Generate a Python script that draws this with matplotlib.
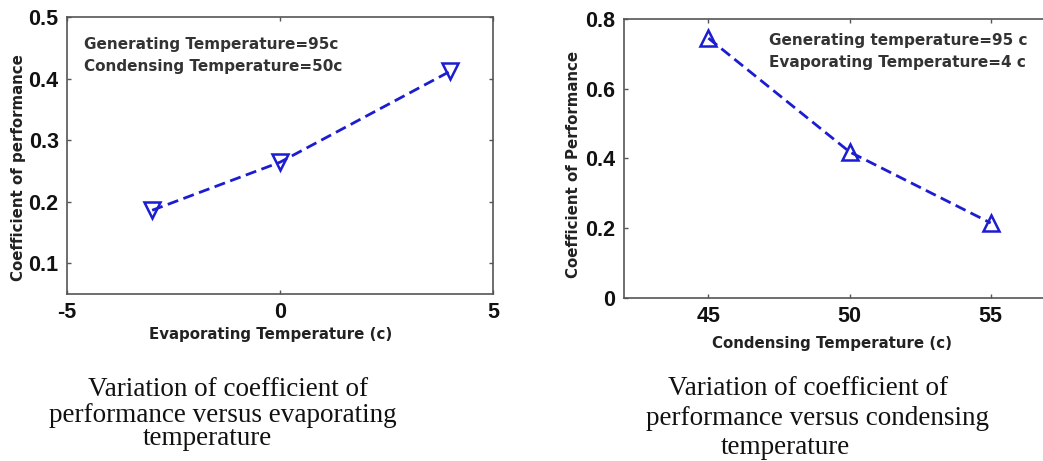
import matplotlib
matplotlib.use('Agg')
import matplotlib.pyplot as plt

# data
evap_temp = [-3, 0, 4]
cop_evap = [0.186, 0.264, 0.412]
cond_temp = [45, 50, 55]
cop_cond = [0.745, 0.419, 0.215]

W, H = 1043, 461
blue = '#1c1cd0'
grey = '#555555'
lab_font = dict(fontsize=10.8, fontweight='bold', family='DejaVu Sans', color='#222222')
note_font = dict(fontsize=11, fontweight='bold', family='DejaVu Sans', color='#333333')
cap_font = dict(fontsize=19.5, family='Liberation Serif', color='#111111')

def px(x, y):
    return x / W, 1 - y / H

def style_axes(ax):
    for s in ax.spines.values():
        s.set_color(grey)
        s.set_linewidth(1.2)
    ax.tick_params(direction='in', length=3, width=1, color=grey,
                   top=True, right=True, pad=6)
    for lab in ax.get_xticklabels() + ax.get_yticklabels():
        lab.set_fontfamily('Liberation Sans')
        lab.set_fontweight('bold')
        lab.set_fontsize(15.5)
        lab.set_color('#111111')

fig = plt.figure(figsize=(W / 100, H / 100), dpi=100)

# left panel
ax1 = fig.add_axes([0.0642, 0.3623, 0.4085, 0.6009])
ax1.plot(evap_temp, cop_evap, '--v', color=blue, lw=2, ms=12,
         mfc='none', mew=1.8, dashes=(4, 2))
ax1.set_xlim(-5, 5)
ax1.set_ylim(0.05, 0.5)
ax1.set_xticks([-5, 0, 5])
ax1.set_yticks([0.1, 0.2, 0.3, 0.4, 0.5])
ax1.set_xticklabels(['-5', '0', '5'])
ax1.set_yticklabels(['0.1', '0.2', '0.3', '0.4', '0.5'])
style_axes(ax1)
fig.text(*px(271, 335), 'Evaporating Temperature (c)', ha='center', va='center', **lab_font)
fig.text(*px(19, 168), 'Coefficient of performance', rotation=90,
         ha='center', va='center', **lab_font)
fig.text(*px(84, 44), 'Generating Temperature=95c', va='center', **note_font)
fig.text(*px(84, 67), 'Condensing Temperature=50c', va='center', **note_font)

# right panel
ax2 = fig.add_axes([0.598, 0.3536, 0.406, 0.6052])
ax2.plot(cond_temp, cop_cond, '--^', color=blue, lw=2, ms=12,
         mfc='none', mew=1.8, dashes=(4, 2))
ax2.set_xlim(42, 57)
ax2.set_ylim(0, 0.8)
ax2.set_xticks([45, 50, 55])
ax2.set_yticks([0, 0.2, 0.4, 0.6, 0.8])
ax2.set_xticklabels(['45', '50', '55'])
ax2.set_yticklabels(['0', '0.2', '0.4', '0.6', '0.8'])
style_axes(ax2)
fig.text(*px(832, 343), 'Condensing Temperature (c)', ha='center', va='center', **lab_font)
fig.text(*px(573, 164), 'Coefficient of Performance', rotation=90,
         ha='center', va='center', **lab_font)
fig.text(*px(769, 40), 'Generating temperature=95 c', va='center', **note_font)
fig.text(*px(769, 63), 'Evaporating Temperature=4 c', va='center', **note_font)

# captions, one line at a time as placed in the picture
fig.text(*px(228, 396), 'Variation of coefficient of', ha='center', va='baseline', **cap_font)
fig.text(*px(223, 422), 'performance versus evaporating', ha='center', va='baseline', **cap_font)
fig.text(*px(207, 445), 'temperature', ha='center', va='baseline', **cap_font)
fig.text(*px(808, 395), 'Variation of coefficient of', ha='center', va='baseline', **cap_font)
fig.text(*px(818, 425), 'performance versus condensing', ha='center', va='baseline', **cap_font)
fig.text(*px(785, 454), 'temperature', ha='center', va='baseline', **cap_font)

fig.savefig('out.png', dpi=100)
